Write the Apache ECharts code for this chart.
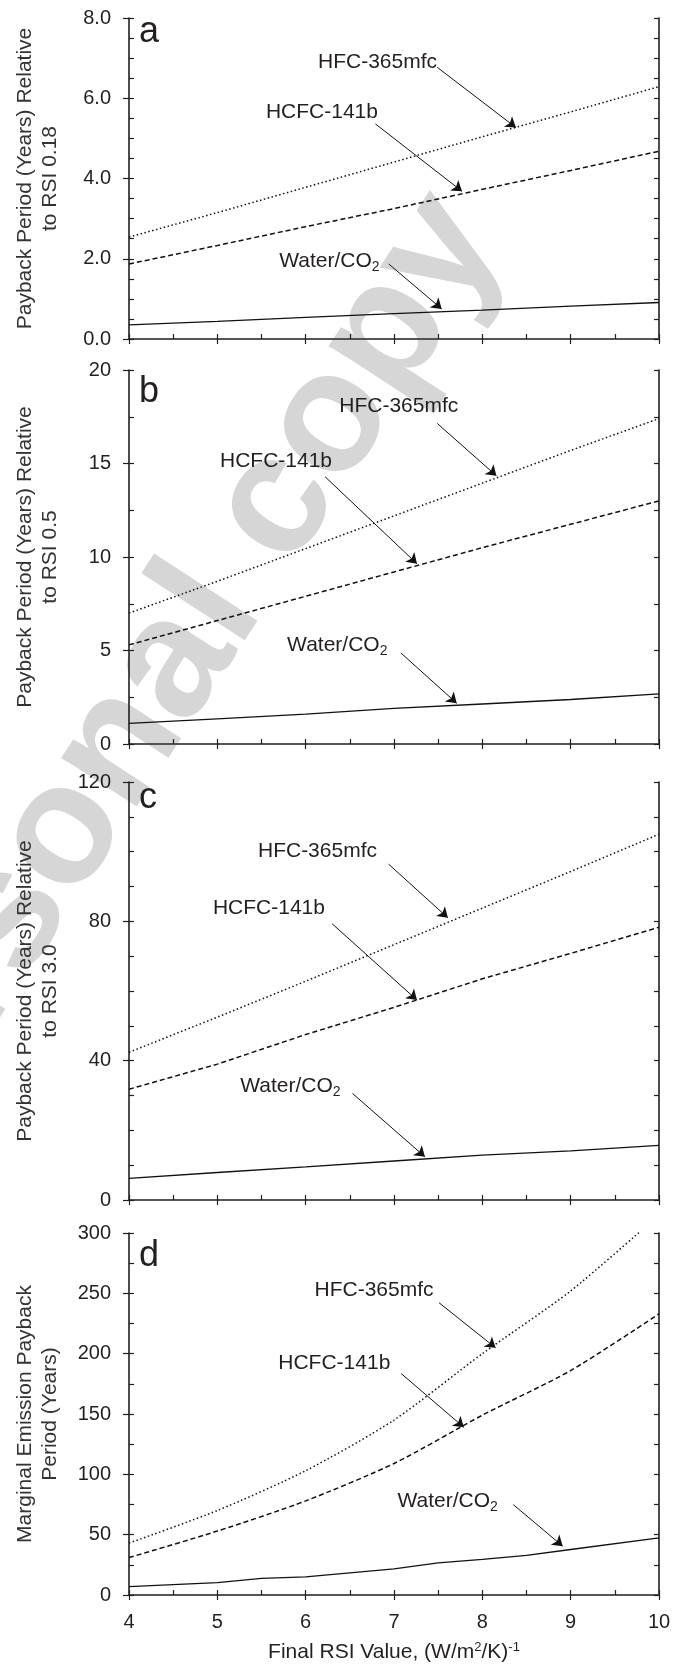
<!DOCTYPE html>
<html>
<head>
<meta charset="utf-8">
<title>Payback periods</title>
<script src="https://cdn.jsdelivr.net/npm/echarts@6/dist/echarts.min.js"></script>
<style>
  html, body { margin: 0; padding: 0; background: #fff; }
  #main { width: 684px; height: 1675px; }
</style>
</head>
<body>
<div id="main"></div>
<script>
// x values (Final RSI)
var rsi = [4, 5, 6, 7, 8, 9, 10];
var rsiFine = [4, 5, 5.5, 6, 7, 7.5, 8, 8.5, 9, 10];

// a: payback relative to RSI 0.18
var hfcA = [2.54, 3.15, 3.78, 4.41, 5.04, 5.66, 6.29];
var hcfcA = [1.87, 2.33, 2.80, 3.25, 3.73, 4.20, 4.68];
var waterA = [0.35, 0.44, 0.54, 0.63, 0.72, 0.82, 0.91];

// b: payback relative to RSI 0.5
var hfcB = [7.0, 8.7, 10.45, 12.2, 13.95, 15.7, 17.4];
var hcfcB = [5.3, 6.6, 7.9, 9.2, 10.5, 11.75, 13.0];
var waterB = [1.1, 1.34, 1.6, 1.9, 2.14, 2.38, 2.68];

// c: payback relative to RSI 3.0
var hfcC = [42.4, 52.5, 62.8, 73.3, 83.8, 94.3, 105];
var hcfcC = [31.8, 39.0, 47.5, 55.3, 63.5, 70.8, 78.3];
var waterC = [6.2, 7.9, 9.5, 11.2, 12.9, 14.1, 15.7];

// d: marginal emission payback
var hfcD = [43, 70, 103, 145, 200, 252, 315];
var hcfcD = [31, 53, 78, 109, 149, 186, 233];
var waterD = [6.9, 10.2, 13.8, 15.1, 21.7, 26.7, 29.5, 32.8, 37.7, 47.3];

var FONT = "'Liberation Sans', Arial, Helvetica, sans-serif";
var INK = '#231f20';

// panel layout + annotations (label left/middle, arrow from -> to, in data units)
var panels = [
  { letter: 'a', top: 18, height: 321, max: 8, step: 2, minor: 0.5, dec: 1,
    title: 'Payback Period (Years) Relative\nto RSI 0.18',
    hfc: [rsi, hfcA], hcfc: [rsi, hcfcA], water: [rsi, waterA],
    notes: [
      { at: [6.14, 6.89], from: [7.49, 6.77], to: [8.38, 5.27] },
      { at: [5.55, 5.66], from: [6.79, 5.36], to: [7.77, 3.68] },
      { at: [5.70, 1.95], from: [6.94, 1.87], to: [7.54, 0.75] }
    ] },
  { letter: 'b', top: 370, height: 374, max: 20, step: 5, minor: 2.5, dec: 0,
    title: 'Payback Period (Years) Relative\nto RSI 0.5',
    hfc: [rsi, hfcB], hcfc: [rsi, hcfcB], water: [rsi, waterB],
    notes: [
      { at: [6.38, 18.07], from: [7.49, 17.14], to: [8.16, 14.34] },
      { at: [5.03, 15.1], from: [6.22, 14.29], to: [7.26, 9.64] },
      { at: [5.79, 5.27], from: [7.08, 4.86], to: [7.71, 2.18] }
    ] },
  { letter: 'c', top: 782, height: 418, max: 120, step: 40, minor: 10, dec: 0,
    title: 'Payback Period (Years) Relative\nto RSI 3.0',
    hfc: [rsi, hfcC], hcfc: [rsi, hcfcC], water: [rsi, waterC],
    notes: [
      { at: [5.46, 100.1], from: [6.94, 96.4], to: [7.61, 81.0] },
      { at: [4.95, 83.9], from: [6.30, 79.3], to: [7.26, 57.4] },
      { at: [5.26, 32.8], from: [6.53, 30.6], to: [7.35, 12.4] }
    ] },
  { letter: 'd', top: 1233, height: 362, max: 300, step: 50, minor: 25, dec: 0,
    title: 'Marginal Emission Payback\nPeriod (Years)',
    hfc: [rsi, hfcD], hcfc: [rsi, hcfcD], water: [rsiFine, waterD],
    notes: [
      { at: [6.10, 252.4], from: [7.51, 242.2], to: [8.15, 204.8] },
      { at: [5.69, 191.9], from: [7.08, 183.6], to: [7.79, 139.0] },
      { at: [7.04, 77.6], from: [8.35, 74.9], to: [8.91, 40.5] }
    ] }
];
var baselines = [54, 414, 820, 1278];
var names = ['HFC-365mfc', 'HCFC-141b', 'Water/CO{sub|2}'];

var grids = [], xAxes = [], yAxes = [], series = [];

panels.forEach(function (p, i) {
  grids.push({ left: 129, right: 25, top: p.top, height: p.height });
  var last = i === panels.length - 1;

  // bottom axis with labels, inner minor ticks, top border
  xAxes.push({
    gridIndex: i, type: 'value', min: 4, max: 10, interval: 1, position: 'bottom',
    axisLine: { lineStyle: { color: INK, width: 1.6 } },
    axisTick: { show: true, inside: false, length: 5, lineStyle: { color: INK, width: 1.2 } },
    axisLabel: { show: last, margin: 17, fontSize: 20, color: INK, fontFamily: FONT },
    splitLine: { show: false },
    name: last ? 'Final RSI Value, (W/m{sup|2}/K){sup|-1}' : '',
    nameLocation: 'middle', nameGap: 46,
    nameTextStyle: { fontSize: 21, color: INK, fontFamily: FONT,
      rich: { sup: { fontSize: 13, color: INK, fontFamily: FONT, padding: [0, 0, 10, 0] } } }
  });
  xAxes.push({
    gridIndex: i, type: 'value', min: 4, max: 10, interval: 0.5, position: 'bottom',
    axisLine: { show: false },
    axisTick: { show: true, inside: true, length: 5, lineStyle: { color: INK, width: 1.2 } },
    axisLabel: { show: false }, splitLine: { show: false }
  });
  xAxes.push({
    gridIndex: i, type: 'value', min: 4, max: 10, position: 'top',
    axisLine: { show: true, lineStyle: { color: '#555', width: 1.6 } },
    axisTick: { show: false }, axisLabel: { show: false }, splitLine: { show: false }
  });

  yAxes.push({
    gridIndex: i, type: 'value', min: 0, max: p.max, interval: p.step, position: 'left',
    axisLine: { show: true, lineStyle: { color: INK, width: 1.6 } },
    axisTick: { show: true, inside: false, length: 6, lineStyle: { color: INK, width: 1.2 } },
    axisLabel: { margin: 18, fontSize: 20, color: INK, fontFamily: FONT,
      formatter: function (v) { return v.toFixed(p.dec); } },
    splitLine: { show: false },
    name: p.title, nameLocation: 'middle', nameGap: 66, nameRotate: 90,
    nameTextStyle: { fontSize: 21, lineHeight: 25, color: '#333', fontFamily: FONT, align: 'center' }
  });
  yAxes.push({
    gridIndex: i, type: 'value', min: 0, max: p.max, interval: p.minor, position: 'left',
    axisLine: { show: false },
    axisTick: { show: true, inside: true, length: 5, lineStyle: { color: INK, width: 1.2 } },
    axisLabel: { show: false }, splitLine: { show: false }
  });
  yAxes.push({
    gridIndex: i, type: 'value', min: 0, max: p.max, interval: p.minor, position: 'right',
    axisLine: { show: true, lineStyle: { color: INK, width: 1.6 } },
    axisTick: { show: true, inside: true, length: 5, lineStyle: { color: INK, width: 1.2 } },
    axisLabel: { show: false }, splitLine: { show: false }
  });

  var styles = [
    { color: '#111', width: 1.5, type: [1.5, 2.5] },
    { color: '#111', width: 1.5, type: [5, 3] },
    { color: '#111', width: 1.3, type: 'solid' }
  ];
  [p.hfc, p.hcfc, p.water].forEach(function (xy, k) {
    var note = p.notes[k];
    series.push({
      type: 'line', name: names[k], xAxisIndex: i * 3, yAxisIndex: i * 3,
      data: xy[0].map(function (x, j) { return [x, xy[1][j]]; }),
      showSymbol: false, symbol: 'none', silent: true, z: 3,
      smooth: i === 3 && k < 2 ? 0.25 : false,
      lineStyle: styles[k],
      markLine: {
        silent: true, symbol: ['none', 'arrow'], symbolSize: 10,
        lineStyle: { color: '#111', width: 1, type: 'solid' },
        label: { show: false },
        data: [[{ coord: note.from }, { coord: note.to }]]
      },
      markPoint: {
        silent: true, symbol: 'circle', symbolSize: 0,
        label: {
          show: true, position: 'inside', align: 'left', verticalAlign: 'middle',
          formatter: names[k], fontSize: 21, color: INK, fontFamily: FONT,
          rich: { sub: { fontSize: 14, color: INK, fontFamily: FONT, padding: [12, 0, 0, 0] } }
        },
        data: [{ coord: note.at }]
      }
    });
  });
});

var graphics = [{
  type: 'text', x: 150, y: 700, rotation: 0.995, z: -10, silent: true,
  style: { text: 'Personal copy', font: 'bold 170px ' + FONT, fill: '#d6d6d6',
    textAlign: 'center', textVerticalAlign: 'middle' }
}];
panels.forEach(function (p, i) {
  graphics.push({
    type: 'text', left: 139, top: baselines[i] - 40, silent: true,
    style: { text: p.letter, font: '36px ' + FONT, fill: INK }
  });
});

var chart = echarts.init(document.getElementById('main'));
chart.setOption({
  animation: false,
  backgroundColor: '#fff',
  grid: grids,
  xAxis: xAxes,
  yAxis: yAxes,
  graphic: graphics,
  series: series
});
</script>
</body>
</html>
